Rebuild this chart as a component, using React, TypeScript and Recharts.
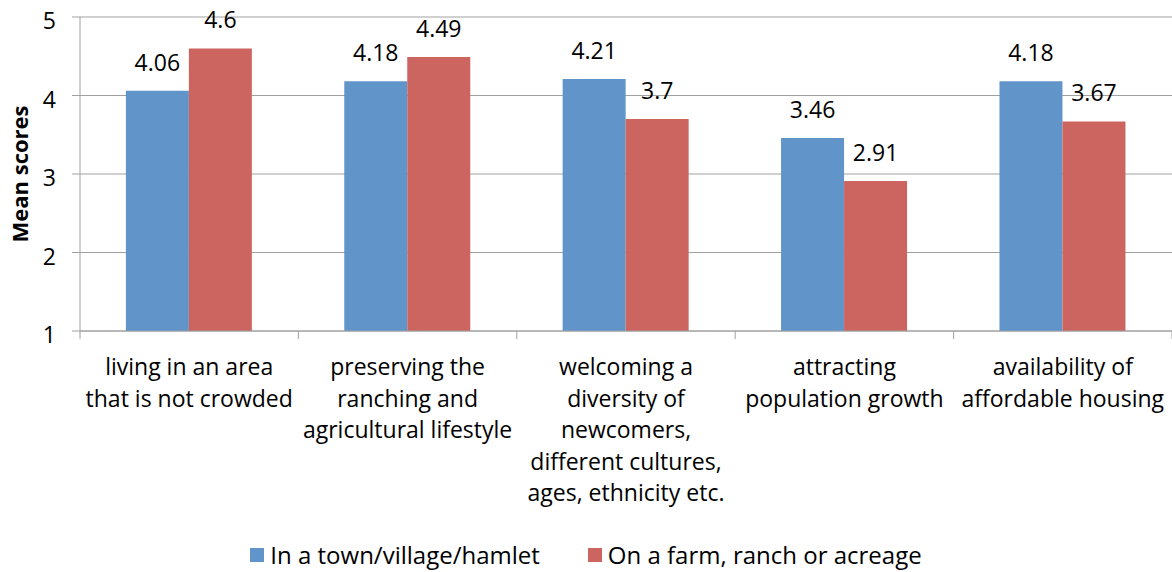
import { BarChart, Bar, XAxis, YAxis, CartesianGrid, Legend, LabelList } from "recharts";

const categories = [
  "living in an area\nthat is not crowded",
  "preserving the\nranching and\nagricultural lifestyle",
  "welcoming a\ndiversity of\nnewcomers,\ndifferent cultures,\nages, ethnicity etc.",
  "attracting\npopulation growth",
  "availability of\naffordable housing",
];
const town = [4.06, 4.18, 4.21, 3.46, 4.18];
const farm = [4.6, 4.49, 3.7, 2.91, 3.67];
const yTicks = [1, 2, 3, 4, 5];

const seriesNames = {
  town: "In a town/village/hamlet",
  farm: "On a farm, ranch or acreage",
};

const data = categories.map((c, i) => ({ category: c, town: town[i], farm: farm[i] }));

const W = 1172;
const H = 572;
const PLOT_LEFT = 80;
const BAND = (W - PLOT_LEFT) / categories.length;
const GRID = "#a0a0a0";
const BLUE = "#6195c9";
const RED = "#cc6560";
const FONT = "'Open Sans', sans-serif";

const CategoryTick = (props: any) => {
  const { x, y, payload, index } = props;
  const lines = String(payload.value).split("\n");
  const half = BAND / 2;
  return (
    <g>
      <line x1={x - half} x2={x - half} y1={y} y2={y + 8} stroke={GRID} />
      {index === categories.length - 1 && (
        <line x1={x + half} x2={x + half} y1={y} y2={y + 8} stroke={GRID} />
      )}
      <text x={x} y={y + 44} textAnchor="middle" fontSize={23} fill="#000">
        {lines.map((l, i) => (
          <tspan key={i} x={x} dy={i === 0 ? 0 : 31.5}>
            {l}
          </tspan>
        ))}
      </text>
    </g>
  );
};

const LegendContent = () => (
  <div style={{ display: "flex", justifyContent: "center", gap: 48, fontSize: 24, color: "#000" }}>
    {[
      { name: seriesNames.town, color: BLUE },
      { name: seriesNames.farm, color: RED },
    ].map((it) => (
      <div key={it.name} style={{ display: "flex", alignItems: "center" }}>
        <span style={{ display: "inline-block", width: 14, height: 14, background: it.color, marginRight: 6 }} />
        <span>{it.name}</span>
      </div>
    ))}
  </div>
);

export default function App() {
  return (
    <div style={{ position: "absolute", left: 0, top: 0, fontFamily: FONT, background: "#fff" }}>
      <BarChart
        width={W}
        height={H}
        data={data}
        margin={{ top: 17, right: 0, bottom: 0, left: 0 }}
        barCategoryGap="21%"
        barGap={0}
      >
        <CartesianGrid vertical={false} stroke={GRID} />
        <XAxis
          dataKey="category"
          height={241}
          axisLine={{ stroke: GRID }}
          tickLine={false}
          tickSize={0}
          tickMargin={0}
          interval={0}
          tick={<CategoryTick />}
        />
        <YAxis
          width={80}
          domain={[1, 5]}
          ticks={yTicks}
          allowDataOverflow
          axisLine={{ stroke: GRID }}
          tickLine={{ stroke: GRID }}
          tickSize={8}
          tickMargin={16}
          tick={{ fill: "#000", fontSize: 23, dy: 4 }}
          label={{
            content: (p: any) => {
              const vb = p.viewBox || { x: 0, y: 17, height: 314 };
              const cy = vb.y + vb.height / 2;
              return (
                <text
                  x={19}
                  y={cy}
                  transform={`rotate(-90, 19, ${cy})`}
                  textAnchor="middle"
                  dominantBaseline="central"
                  fontSize={22}
                  fontWeight="bold"
                  fill="#000"
                >
                  Mean scores
                </text>
              );
            },
          }}
        />
        <Legend
          verticalAlign="middle"
          align="center"
          content={<LegendContent />}
          wrapperStyle={{ top: 538, left: 0, width: W }}
        />
        <Bar dataKey="town" name={seriesNames.town} fill={BLUE} isAnimationActive={false}>
          <LabelList dataKey="town" position="top" offset={20} fontSize={23} fill="#000" />
        </Bar>
        <Bar dataKey="farm" name={seriesNames.farm} fill={RED} isAnimationActive={false}>
          <LabelList dataKey="farm" position="top" offset={20} fontSize={23} fill="#000" />
        </Bar>
      </BarChart>
    </div>
  );
}
